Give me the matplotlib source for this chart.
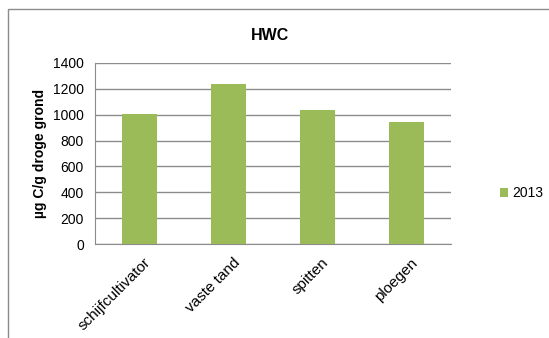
import matplotlib.pyplot as plt
from matplotlib.patches import Rectangle
from matplotlib.transforms import ScaledTranslation

# HWC per grondbewerking
categories = ["schijfcultivator", "vaste tand", "spitten", "ploegen"]
values_2013 = [1005, 1238, 1036, 944]
yticks = [0, 200, 400, 600, 800, 1000, 1200, 1400]

W, H = 549, 338
plt.rcParams['font.family'] = ['Liberation Sans', 'DejaVu Sans']

fig = plt.figure(figsize=(W / 100, H / 100), dpi=100)
fig.patch.set_facecolor('white')

# chart frame (runs off the right/bottom edge)
fig.patches.append(Rectangle((8 / W, -0.1), 1.2, 1 - 9 / H + 0.1,
                             transform=fig.transFigure, fill=False,
                             edgecolor='#8c8c8c', linewidth=1.0))

ax = fig.add_axes([95 / W, 1 - 244 / H, (451 - 95) / W, (244 - 63) / H])
x = range(len(categories))
ax.bar(x, values_2013, width=0.4, color='#9BBB59', label='2013', zorder=3)

ax.set_xlim(-0.5, len(categories) - 0.5)
ax.set_ylim(0, 1400)
ax.set_yticks(yticks)
ax.set_yticklabels([str(v) for v in yticks], fontsize=10)
ax.yaxis.grid(True, color='#8c8c8c', linewidth=1.0, zorder=0)
ax.tick_params(axis='y', length=0, pad=8)
ax.tick_params(axis='x', length=0, pad=2)
ax.set_xticks(list(x))
ax.set_xticklabels(categories, fontsize=11, rotation=45, ha='right',
                   rotation_mode='anchor')
shift = ScaledTranslation(0.04, -0.09, fig.dpi_scale_trans)
for lbl in ax.get_xticklabels():
    lbl.set_transform(lbl.get_transform() + shift)

for side in ['top', 'right']:
    ax.spines[side].set_visible(False)
ax.spines['left'].set_color('#8c8c8c')
ax.spines['bottom'].set_color('#8c8c8c')

fig.text(270 / W, 1 - 36 / H, 'HWC', fontsize=11.5, fontweight='bold',
         ha='center', va='center')
ax.set_ylabel('µg C/g droge grond', fontsize=10, fontweight='bold', labelpad=4)

fig.legend(loc='center left', bbox_to_anchor=(493 / W, 1 - 193 / H),
           frameon=False, fontsize=10, handlelength=0.6, handleheight=0.6,
           handletextpad=0.3, borderpad=0)

fig.savefig('out.png', dpi=100)
